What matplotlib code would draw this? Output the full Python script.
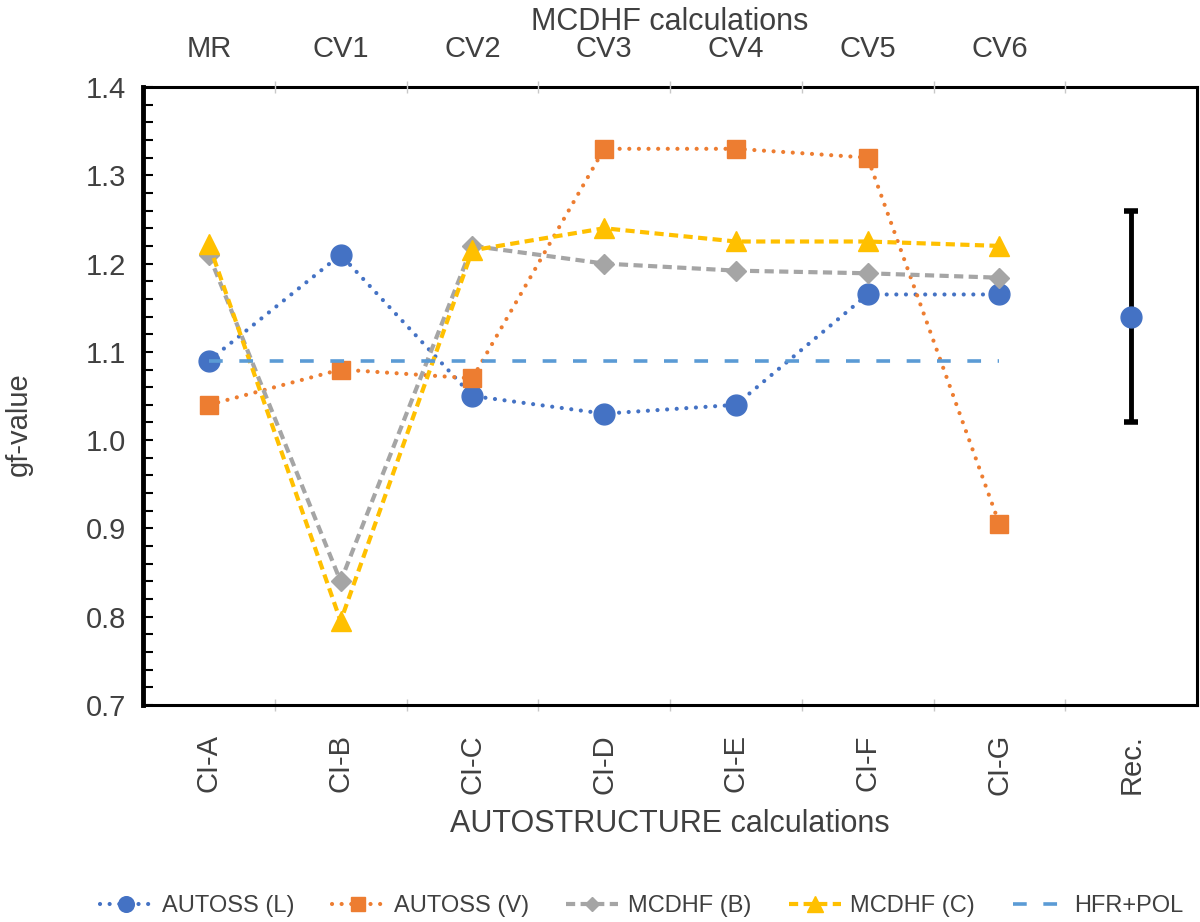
import numpy as np
import matplotlib
matplotlib.use("Agg")
import matplotlib.pyplot as plt
from matplotlib.ticker import MultipleLocator, FixedLocator

plt.rcParams['font.family'] = ['Liberation Sans', 'DejaVu Sans']

# data
autostructure = ['CI-A', 'CI-B', 'CI-C', 'CI-D', 'CI-E', 'CI-F', 'CI-G', 'Rec.']
mcdhf_runs = ['MR', 'CV1', 'CV2', 'CV3', 'CV4', 'CV5', 'CV6']

autoss_L = [1.09, 1.21, 1.05, 1.03, 1.04, 1.165, 1.165]
autoss_V = [1.04, 1.08, 1.07, 1.33, 1.33, 1.32, 0.905]
mcdhf_B = [1.21, 0.84, 1.22, 1.20, 1.192, 1.189, 1.184]
mcdhf_C = [1.222, 0.795, 1.215, 1.24, 1.225, 1.225, 1.22]
hfr_pol = [1.09, 1.09, 1.09, 1.09, 1.09, 1.09, 1.09]

rec_value = 1.14
rec_error = 0.12

txt = '#404040'

fig = plt.figure(figsize=(12, 9.22), dpi=100)
ax = fig.add_axes([143/1200, 1 - 705/922, (1197 - 143)/1200, (705 - 87)/922])

x = np.arange(len(autoss_L))
dots = (0, (0.01, 2.3))

ax.plot(x, autoss_L, color='#4472C4', lw=3, linestyle=dots, dash_capstyle='round',
        marker='o', markersize=15, label='AUTOSS (L)')
ax.plot(x, autoss_V, color='#ED7D31', lw=3, linestyle=dots, dash_capstyle='round',
        marker='s', markersize=13, label='AUTOSS (V)')
ax.plot(x, mcdhf_B, color='#A5A5A5', lw=3, linestyle=(0, (2.2, 1.3)),
        marker='D', markersize=10, label='MCDHF (B)')
ax.plot(x, mcdhf_C, color='#FFC000', lw=3, linestyle=(0, (2.2, 1.3)),
        marker='^', markersize=15, label='MCDHF (C)')
ax.plot(x, hfr_pol, color='#5B9BD5', lw=2.6, linestyle=(0, (3.8, 4.6)),
        label='HFR+POL')

ax.errorbar([len(autostructure) - 1], [rec_value], yerr=[rec_error], fmt='o',
            color='#4472C4', markersize=15, ecolor='black', elinewidth=3.5,
            capsize=5, capthick=4, zorder=5)

ax.set_xlim(-0.5, len(autostructure) - 0.5)
ax.set_ylim(0.7, 1.4)
ax.yaxis.set_major_locator(MultipleLocator(0.1))
ax.yaxis.set_minor_locator(MultipleLocator(0.02))
ax.yaxis.set_major_formatter(matplotlib.ticker.FormatStrFormatter('%.1f'))
ax.tick_params(axis='y', which='both', direction='in', length=7, width=1.5,
               labelsize=21, labelcolor=txt, pad=12)

ax.set_xticks(range(len(autostructure)))
ax.set_xticklabels(autostructure, rotation=90, va='top')
ax.xaxis.set_minor_locator(FixedLocator(np.arange(0.5, len(autostructure) - 0.5, 1)))
ax.tick_params(axis='x', which='major', length=0, labelsize=21, labelcolor=txt, pad=21)
ax.tick_params(axis='x', which='minor', direction='inout', length=9, width=1, color='#C8C8C8')
ax.set_xlabel('AUTOSTRUCTURE calculations', fontsize=22, color=txt, labelpad=10)
ax.set_ylabel('gf-value', fontsize=21, color=txt, labelpad=14)
ax.yaxis.set_label_coords(-0.105, 0.455)

for side in ['top', 'bottom', 'right']:
    ax.spines[side].set_linewidth(2.2)
    ax.spines[side].set_color('black')
ax.spines['left'].set_linewidth(3.5)

top = ax.twiny()
top.set_xlim(ax.get_xlim())
top.set_xticks(range(len(mcdhf_runs)))
top.set_xticklabels(mcdhf_runs)
top.xaxis.set_minor_locator(FixedLocator(np.arange(0.5, len(autostructure) - 0.5, 1)))
top.tick_params(axis='x', which='major', length=0, labelsize=21, labelcolor=txt, pad=17)
top.tick_params(axis='x', which='minor', direction='inout', length=9, width=1, color='#C8C8C8')
top.set_xlabel('MCDHF calculations', fontsize=22, color=txt, labelpad=4)
for s in top.spines.values():
    s.set_visible(False)

handles, labels = ax.get_legend_handles_labels()
fig.legend(handles, labels, loc='center', bbox_to_anchor=(0.535, 0.017), ncol=5,
           frameon=False, fontsize=17, labelcolor=txt, handlelength=2.2,
           handletextpad=0.4, columnspacing=1.6, markerscale=0.75)

fig.savefig('out.png', dpi=100)
